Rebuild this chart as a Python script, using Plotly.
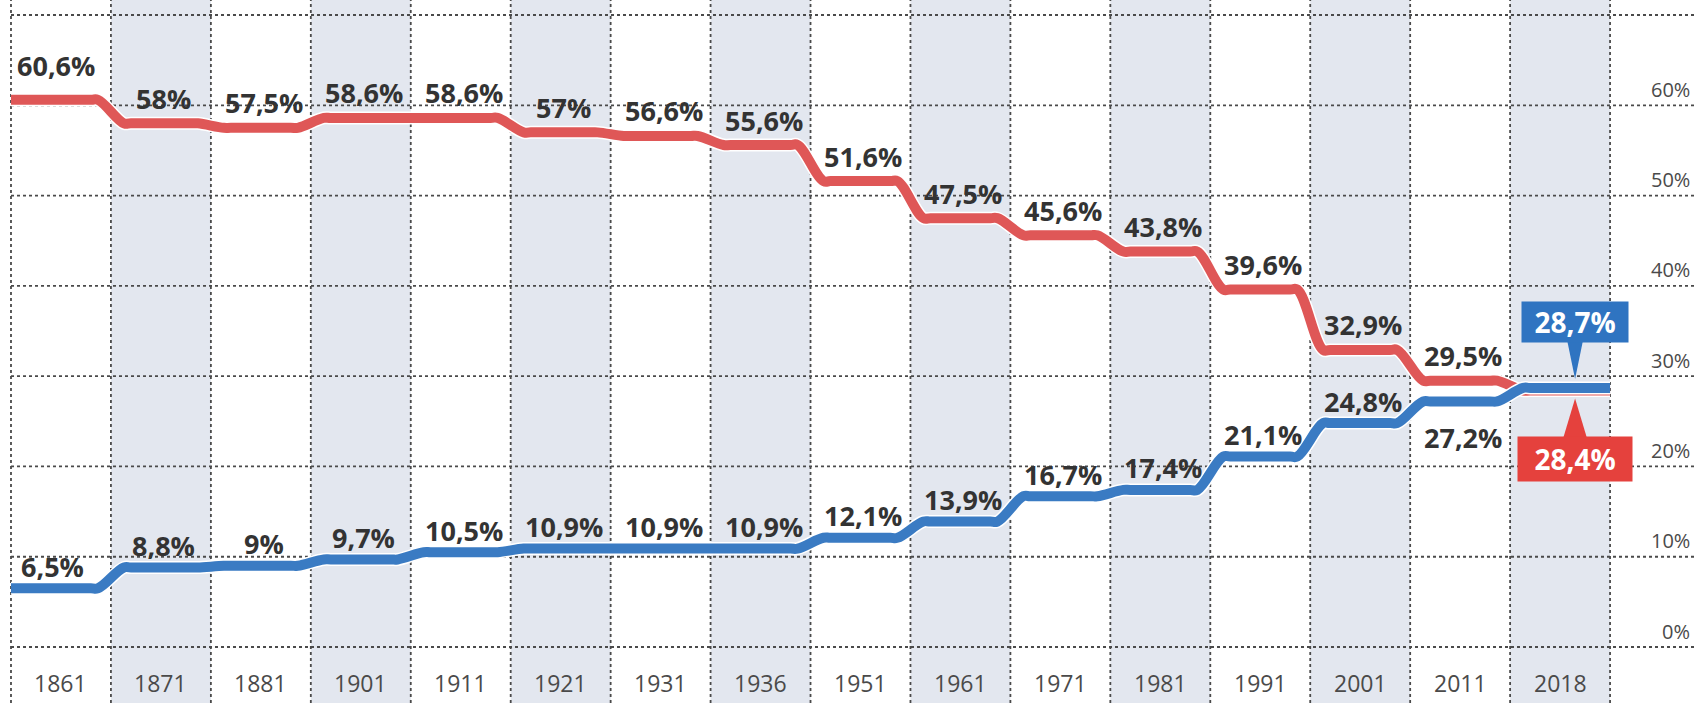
import plotly.graph_objects as go

# Census years and the two shares (%) per year
years = ["1861", "1871", "1881", "1901", "1911", "1921", "1931", "1936",
         "1951", "1961", "1971", "1981", "1991", "2001", "2011", "2018"]
red_share = [60.6, 58, 57.5, 58.6, 58.6, 57, 56.6, 55.6,
             51.6, 47.5, 45.6, 43.8, 39.6, 32.9, 29.5, 28.4]
blue_share = [6.5, 8.8, 9, 9.7, 10.5, 10.9, 10.9, 10.9,
              12.1, 13.9, 16.7, 17.4, 21.1, 24.8, 27.2, 28.7]
y_ticks = [0, 10, 20, 30, 40, 50, 60]

RED = "#df5757"
BLUE = "#3a7bc3"
RED_BOX = "#e5413d"
BLUE_BOX = "#2f74c1"
SHADE = "#e3e7ef"
GRID = "#4a4a4a"
LABEL_FONT = "Open Sans"

n = len(years)
X0, X1 = -0.61, 16.34
Y0, Y1 = -6.2, 71.66


def fmt(v):
    return f"{v:g}".replace(".", ",") + "%"


def step_path(values):
    """Each value held flat across its column, eased into the next one."""
    xs, ys = [], []
    for i, v in enumerate(values):
        left = i - 0.37 if i > 0 else i - 0.5
        right = i + 0.37 if i < len(values) - 1 else i + 0.5
        for x in (left, left + 0.07, right - 0.07, right):
            xs.append(x)
            ys.append(v)
    return xs, ys


fig = go.Figure()

# Plateaus with a white halo under each coloured line
for vals, col in ((red_share, RED), (blue_share, BLUE)):
    xs, ys = step_path(vals)
    fig.add_trace(go.Scatter(x=xs, y=ys, mode="lines",
                             line=dict(color="white", width=13, shape="spline", smoothing=1.2),
                             hoverinfo="skip", showlegend=False))
    fig.add_trace(go.Scatter(x=xs, y=ys, mode="lines",
                             line=dict(color=col, width=10, shape="spline", smoothing=1.2),
                             hoverinfo="skip", showlegend=False))

shapes = []
# Alternating column shading
for i in range(n):
    if i % 2 == 1:
        shapes.append(dict(type="rect", xref="x", yref="paper", x0=i - 0.5, x1=i + 0.5,
                           y0=0, y1=1, fillcolor=SHADE, line=dict(width=0), layer="below"))
# Vertical dotted separators
for i in range(n + 1):
    shapes.append(dict(type="line", xref="x", yref="paper", x0=i - 0.5, x1=i - 0.5,
                       y0=0, y1=1, line=dict(color=GRID, width=1.8, dash="dot"), layer="below"))
# Horizontal dotted gridlines (0 .. 70 %)
for v in y_ticks + [70]:
    shapes.append(dict(type="line", xref="paper", yref="y", x0=11 / 1694, x1=1,
                       y0=v, y1=v, line=dict(color=GRID, width=1.8, dash="dot"), layer="below"))

# Callout pointers for the last year
last = n - 1
shapes.append(dict(type="path", xref="x", yref="y", xsizemode="pixel", ysizemode="pixel",
                   xanchor=last, yanchor=blue_share[last],
                   path="M 7,48 L 23,48 L 15,9 Z", fillcolor=BLUE_BOX, line=dict(width=0)))
shapes.append(dict(type="path", xref="x", yref="y", xsizemode="pixel", ysizemode="pixel",
                   xanchor=last, yanchor=red_share[last],
                   path="M 3,-48 L 27,-48 L 15,-8 Z", fillcolor=RED_BOX, line=dict(width=0)))

annotations = []
label_font = dict(family=LABEL_FONT, size=27, color="#333333", weight="bold")

# Value labels above each plateau
for i in range(n - 1):
    rs, bs = 25, 22
    rx, bx = 3, 3
    if i == 0:
        rs, rx, bx = 34, -5, -8
    if i == n - 2:
        bs = -36
    annotations.append(dict(x=i, y=red_share[i], text=fmt(red_share[i]), showarrow=False,
                            xshift=rx, yshift=rs, font=label_font))
    annotations.append(dict(x=i, y=blue_share[i], text=fmt(blue_share[i]), showarrow=False,
                            xshift=bx, yshift=bs, font=label_font))

# Boxed values for the last year
box_font = dict(family=LABEL_FONT, size=28, color="white", weight="bold")
annotations.append(dict(x=last, y=blue_share[last], text=fmt(blue_share[last]), showarrow=False,
                        xshift=15, yshift=66, width=104, height=38, bgcolor=BLUE_BOX,
                        font=box_font))
annotations.append(dict(x=last, y=red_share[last], text=fmt(red_share[last]), showarrow=False,
                        xshift=15, yshift=-68, width=112, height=42, bgcolor=RED_BOX,
                        font=box_font))

# Year labels under the columns
for i, yr in enumerate(years):
    annotations.append(dict(x=i, y=-4.0, text=yr, showarrow=False,
                            font=dict(family=LABEL_FONT, size=23, color="#4a4a4a")))

# Percentage scale on the right
for v in y_ticks:
    annotations.append(dict(xref="paper", x=1, y=v, text=f"{v}%", showarrow=False,
                            xanchor="right", xshift=-2, yshift=16,
                            font=dict(family=LABEL_FONT, size=20, color="#4a4a4a")))

fig.update_layout(
    width=1694, height=703,
    margin=dict(l=0, r=0, t=0, b=0),
    paper_bgcolor="white", plot_bgcolor="white",
    xaxis=dict(range=[X0, X1], visible=False, fixedrange=True),
    yaxis=dict(range=[Y0, Y1], visible=False, fixedrange=True),
    shapes=shapes, annotations=annotations, showlegend=False,
)

fig.write_html("out.html")
